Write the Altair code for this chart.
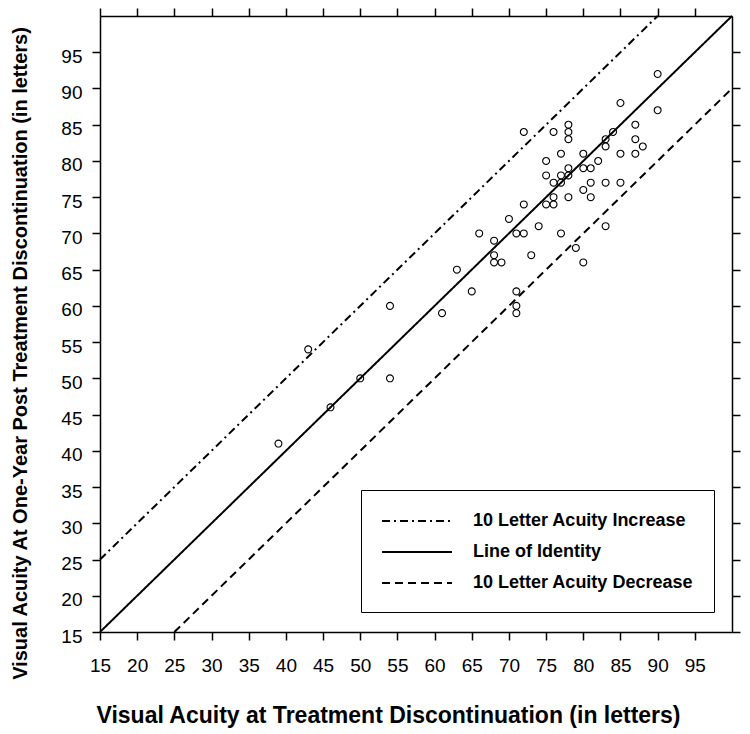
import altair as alt
import pandas as pd

# ---- data ----
x_vals = [39, 43, 46, 50, 54, 54, 61, 63, 65, 66, 68, 68, 68, 69, 70, 71, 72, 71, 71, 71,
          72, 72, 73, 74, 75, 76, 76, 75, 75, 76, 76, 77, 77, 78, 77, 77, 78, 78, 78, 78,
          78, 79, 80, 80, 80, 80, 81, 81, 81, 82, 83, 83, 83, 83, 84, 85, 85, 85, 87, 87,
          87, 88, 90, 90]
y_vals = [41, 54, 46, 50, 60, 50, 59, 65, 62, 70, 69, 67, 66, 66, 72, 70, 70, 62, 60, 59,
          74, 84, 67, 71, 74, 74, 75, 78, 80, 84, 77, 77, 78, 78, 81, 70, 75, 79, 83, 84,
          85, 68, 66, 76, 79, 81, 75, 77, 79, 80, 71, 77, 82, 83, 84, 77, 81, 88, 81, 83,
          85, 82, 87, 92]

series_order = ["10 Letter Acuity Increase", "Line of Identity", "10 Letter Acuity Decrease"]
line_series = [series_order[0]] * 2 + [series_order[1]] * 2 + [series_order[2]] * 2
line_x = [15, 90, 15, 100, 25, 100]
line_y = [25, 100, 15, 100, 15, 90]

tick_values = [15, 20, 25, 30, 35, 40, 45, 50, 55, 60, 65, 70, 75, 80, 85, 90, 95]

x_title = "Visual Acuity at Treatment Discontinuation (in letters)"
y_title = "Visual Acuity At One-Year Post Treatment Discontinuation (in letters)"

FONT = "Liberation Sans"

pts = pd.DataFrame({"x": x_vals, "y": y_vals})
lines = pd.DataFrame({"series": line_series, "x": line_x, "y": line_y})

xs = alt.Scale(domain=[15, 100], nice=False, zero=False)
ys = alt.Scale(domain=[15, 100], nice=False, zero=False)

common_axis = dict(values=tick_values, grid=False, domainColor="black", domainWidth=1.5,
                   tickColor="black", tickWidth=1.5, tickSize=8,
                   labelFont=FONT, labelFontSize=19, labelColor="black")

points = alt.Chart(pts).mark_point(
    shape="circle", filled=False, color="black", size=48, strokeWidth=1.1, opacity=1
).encode(
    x=alt.X("x:Q", scale=xs, axis=alt.Axis(
        orient="bottom", title=x_title, titleFont=FONT, titleFontSize=23, titleFontWeight="bold",
        titleColor="black", titleX=288, titleY=90, titleAlign="center", titleBaseline="alphabetic",
        labelPadding=16, labelFlush=False, labelOverlap=False, **common_axis)),
    y=alt.Y("y:Q", scale=ys, axis=alt.Axis(
        orient="left", title=y_title, titleFont=FONT, titleFontSize=20, titleFontWeight="bold",
        titleColor="black", titleAngle=270, titleX=-74, titleY=337, titleAlign="center",
        titleBaseline="alphabetic", labelPadding=10, labelOffset=4, labelFlush=False,
        labelOverlap=False, **common_axis)),
)

lns = alt.Chart(lines).mark_line(color="black", strokeWidth=2).encode(
    x=alt.X("x:Q", scale=xs, axis=alt.Axis(orient="top", title=None, labels=False, **common_axis)),
    y=alt.Y("y:Q", scale=ys, axis=alt.Axis(orient="right", title=None, labels=False, **common_axis)),
    strokeDash=alt.StrokeDash(
        "series:N",
        sort=series_order,
        scale=alt.Scale(domain=series_order, range=[[8, 4, 2, 4], [1, 0], [8, 5]]),
        legend=alt.Legend(
            title=None, orient="none", legendX=261, legendY=474,
            symbolType="M-1,0H6", symbolSize=400, symbolStrokeWidth=2,
            symbolStrokeColor="black", symbolFillColor="transparent",
            labelFont=FONT, labelFontSize=18,
            labelFontWeight="bold", labelColor="black", labelOffset=70, labelLimit=400,
            padding=20, rowPadding=11, strokeColor="black", fillColor="white",
        ),
    ),
)

chart = alt.layer(lns, points).resolve_axis(x="independent", y="independent").properties(
    width=632, height=616,
    autosize=alt.AutoSizeParams(type="none"),
    padding={"left": 92, "top": 8, "right": 10, "bottom": 100},
).configure_view(stroke=None).configure_legend(strokeWidth=2).configure(background="white")

chart.save("out.html", embed_options={"renderer": "svg", "actions": False})
